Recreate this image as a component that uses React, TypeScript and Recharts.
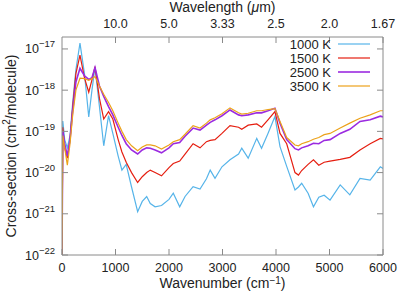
import { Legend, Line, LineChart, XAxis, YAxis } from "recharts";

// wavenumber grid (cm^-1) shared by all four temperatures
const wavenumbers = [
  0, 15, 50, 100, 150, 200, 260, 336, 420, 500,
  560, 617, 700, 780, 870, 950, 1050, 1120, 1200, 1300,
  1414, 1500, 1583, 1650, 1740, 1860, 2000, 2080, 2200, 2300,
  2450, 2580, 2700, 2770, 2860, 2990, 3140, 3300, 3360, 3480,
  3640, 3730, 3850, 3980, 4075, 4200, 4355, 4420, 4480, 4600,
  4700, 4800, 4900, 5010, 5200, 5380, 5570, 5760, 5950, 6000
];

// log10 of cross-section (cm^2/molecule)
const log1000K = [
  -22, -18.75, -19.2, -19.4, -19.1, -18.3, -17.5, -16.86, -17.6, -18.65,
  -18.0, -17.45, -18.4, -19.35, -18.62, -19.05, -19.6, -19.94, -19.8, -20.35,
  -20.95, -20.7, -20.58, -20.75, -20.83, -20.8, -20.65, -20.5, -20.83, -20.58,
  -20.34, -20.4, -20.15, -19.94, -20.14, -19.86, -19.69, -19.55, -19.41, -19.65,
  -19.17, -19.41, -19.05, -18.64, -19.37, -19.85, -20.42, -20.35, -20.26, -20.5,
  -20.83, -20.6, -20.55, -20.67, -20.3, -20.54, -20.14, -20.18, -19.86, -19.9
];
const log1500K = [
  -22, -18.9, -19.4, -19.65, -19.2, -18.4, -17.6, -17.15, -17.7, -18.05,
  -17.75, -17.43, -18.2, -18.7, -18.52, -18.7, -19.2, -19.5, -19.75, -20.0,
  -20.24, -20.1, -20.0, -19.94, -20.0, -20.08, -19.88, -19.78, -19.72, -19.55,
  -19.3, -19.4, -19.25, -19.22, -19.2, -19.05, -18.86, -18.9, -18.95, -18.85,
  -18.82, -18.9, -18.72, -18.52, -19.05, -19.3, -20.0, -20.06, -19.95, -19.8,
  -19.69, -19.82, -19.75, -19.72, -19.68, -19.63, -19.45, -19.3, -19.17, -19.18
];
const log2500K = [
  -22, -19.0, -19.3, -19.6, -19.2, -18.5, -17.8, -17.47, -17.65, -17.74,
  -17.7, -17.45, -17.9, -18.15, -18.4, -18.6, -18.9, -19.1, -19.3, -19.45,
  -19.55, -19.45, -19.4, -19.41, -19.45, -19.52, -19.4, -19.3, -19.27, -19.12,
  -18.92, -18.97, -18.85, -18.78, -18.72, -18.62, -18.48, -18.6, -18.62, -18.6,
  -18.55, -18.55, -18.5, -18.44, -18.8, -19.2, -19.42, -19.45, -19.4, -19.35,
  -19.29, -19.3, -19.22, -19.2, -19.05, -18.95, -18.76, -18.72, -18.63, -18.65
];
const log3500K = [
  -22, -19.1, -19.4, -19.82, -19.3, -18.6, -18.0, -17.71, -17.72, -17.76,
  -17.72, -17.67, -17.9, -18.1, -18.3, -18.5, -18.8, -19.0, -19.2, -19.35,
  -19.47, -19.38, -19.33, -19.33, -19.35, -19.43, -19.33, -19.25, -19.2, -19.07,
  -18.86, -18.92, -18.8, -18.72, -18.67, -18.57, -18.43, -18.55, -18.58, -18.56,
  -18.5, -18.5, -18.47, -18.45, -18.76, -19.15, -19.33, -19.35, -19.3, -19.25,
  -19.19, -19.15, -19.08, -19.05, -18.92, -18.8, -18.68, -18.6, -18.5, -18.5
];

const bottomTicks = [0, 1000, 2000, 3000, 4000, 5000, 6000];
const topTicks = [1000, 2000, 3000, 4000, 5000, 6000];
const topTickLabels = ["10.0", "5.0", "3.33", "2.5", "2.0", "1.67"];
const yTicks = [1e-22, 1e-21, 1e-20, 1e-19, 1e-18, 1e-17];

const series = [
  { key: "k1000", name: "1000 K", color: "#56b4e9", width: 1.2, values: log1000K },
  { key: "k1500", name: "1500 K", color: "#e51e10", width: 1.2, values: log1500K },
  { key: "k2500", name: "2500 K", color: "#9b2be0", width: 1.6, values: log2500K },
  { key: "k3500", name: "3500 K", color: "#eca21a", width: 1.2, values: log3500K }
];

const data = wavenumbers.map((wn, i) => {
  const row: Record<string, number> = { wn };
  series.forEach((s) => {
    row[s.key] = Math.pow(10, s.values[i]);
  });
  return row;
});

const FONT = "'Liberation Sans', Arial, sans-serif";
const AXIS = "#8a8a8a";
const TEXT = "#222";
const Y_DOMAIN = [1e-22, 1.95e-17];

function LeftTick(props: any) {
  const { x, y, payload } = props;
  const exp = Math.round(Math.log10(payload.value));
  return (
    <g>
      <line x1={x + 7} x2={x + 13} y1={y} y2={y} stroke={AXIS} />
      <text x={x} y={y + 4.5} textAnchor="end" fontSize={12.5} fill={TEXT} fontFamily={FONT}>
        10
        <tspan dy={-6} fontSize={9.5}>{`\u2212${-exp}`}</tspan>
      </text>
    </g>
  );
}

function RightTick(props: any) {
  const { x, y } = props;
  return <line x1={x - 6} x2={x} y1={y} y2={y} stroke={AXIS} />;
}

function BottomTick(props: any) {
  const { x, y, payload } = props;
  return (
    <g>
      <line x1={x} x2={x} y1={y - 6} y2={y} stroke={AXIS} />
      <text x={x} y={y + 17} textAnchor="middle" fontSize={12.5} fill={TEXT} fontFamily={FONT}>
        {payload.value}
      </text>
    </g>
  );
}

function TopTick(props: any) {
  const { x, y, payload, index } = props;
  const i = topTicks.indexOf(payload.value);
  return (
    <g>
      <line x1={x} x2={x} y1={y} y2={y + 6} stroke={AXIS} />
      <text x={x} y={y - 9} textAnchor="middle" fontSize={12.5} fill={TEXT} fontFamily={FONT}>
        {i >= 0 ? topTickLabels[i] : topTickLabels[index]}
      </text>
    </g>
  );
}

function BottomLabel(props: any) {
  const { x, y, width } = props.viewBox;
  return (
    <text x={x + width / 2} y={y + 33} textAnchor="middle" fontSize={14} fill={TEXT} fontFamily={FONT}>
      Wavenumber (cm
      <tspan dy={-4.5} fontSize={10}>{"\u22121"}</tspan>
      <tspan dy={4.5}>)</tspan>
    </text>
  );
}

function TopLabel(props: any) {
  const { x, y, width } = props.viewBox;
  return (
    <text x={x + width / 2} y={y + 12} textAnchor="middle" fontSize={14} fill={TEXT} fontFamily={FONT}>
      Wavelength (<tspan fontStyle="italic">μ</tspan>m)
    </text>
  );
}

function LeftLabel(props: any) {
  const { y, height } = props.viewBox;
  const cx = 11;
  const cy = y + height / 2;
  return (
    <text
      x={cx}
      y={cy}
      transform={`rotate(-90 ${cx} ${cy})`}
      textAnchor="middle"
      dominantBaseline="central"
      fontSize={14}
      fill={TEXT}
      fontFamily={FONT}
    >
      Cross-section (cm
      <tspan dy={-5} fontSize={10}>2</tspan>
      <tspan dy={5}>/molecule)</tspan>
    </text>
  );
}

function LegendBox() {
  return (
    <svg width={115} height={60}>
      {series.map((s, i) => (
        <g key={s.key}>
          <text
            x={69}
            y={7 + i * 14 + 4.5}
            textAnchor="end"
            fontSize={13}
            fill={TEXT}
            fontFamily={FONT}
          >
            {s.name}
          </text>
          <line x1={76} x2={108} y1={7 + i * 14} y2={7 + i * 14} stroke={s.color} strokeWidth={s.width} />
        </g>
      ))}
    </svg>
  );
}

export default function App() {
  return (
    <div style={{ position: "absolute", left: 0, top: 0, background: "#fff", fontFamily: FONT }}>
      <LineChart width={399} height={292} data={data} margin={{ top: 0, right: 0, bottom: 0, left: 0 }}>
        <XAxis
          dataKey="wn"
          type="number"
          domain={[0, 6000]}
          ticks={bottomTicks}
          interval={0}
          height={37}
          tickSize={0}
          tickMargin={0}
          tickLine={false}
          axisLine={{ stroke: AXIS }}
          tick={<BottomTick />}
          allowDataOverflow
          label={{ content: <BottomLabel /> }}
        />
        <XAxis
          xAxisId="top"
          dataKey="wn"
          orientation="top"
          type="number"
          domain={[0, 6000]}
          ticks={topTicks}
          interval={0}
          height={37}
          tickSize={0}
          tickMargin={0}
          tickLine={false}
          axisLine={{ stroke: AXIS }}
          tick={<TopTick />}
          allowDataOverflow
          label={{ content: <TopLabel /> }}
        />
        <YAxis
          type="number"
          scale="log"
          domain={Y_DOMAIN}
          ticks={yTicks}
          interval={0}
          width={62}
          tickSize={0}
          tickMargin={7}
          tickLine={false}
          axisLine={{ stroke: AXIS }}
          tick={<LeftTick />}
          allowDataOverflow
          label={{ content: <LeftLabel /> }}
        />
        <YAxis
          yAxisId="right"
          orientation="right"
          type="number"
          scale="log"
          domain={Y_DOMAIN}
          ticks={yTicks}
          interval={0}
          width={16}
          tickSize={0}
          tickMargin={0}
          tickLine={false}
          axisLine={{ stroke: AXIS }}
          tick={<RightTick />}
          allowDataOverflow
        />
        <Legend
          layout="vertical"
          align="center"
          verticalAlign="middle"
          wrapperStyle={{ top: 37, left: 262, width: 115, height: 60 }}
          content={() => <LegendBox />}
        />
        {series.map((s) => (
          <Line
            key={s.key}
            type="linear"
            dataKey={s.key}
            name={s.name}
            stroke={s.color}
            strokeWidth={s.width}
            dot={false}
            isAnimationActive={false}
          />
        ))}
        {/* invisible copy so the top / right axes get a scale */}
        <Line
          xAxisId="top"
          yAxisId="right"
          dataKey="k3500"
          stroke="none"
          dot={false}
          activeDot={false}
          legendType="none"
          isAnimationActive={false}
        />
      </LineChart>
    </div>
  );
}
